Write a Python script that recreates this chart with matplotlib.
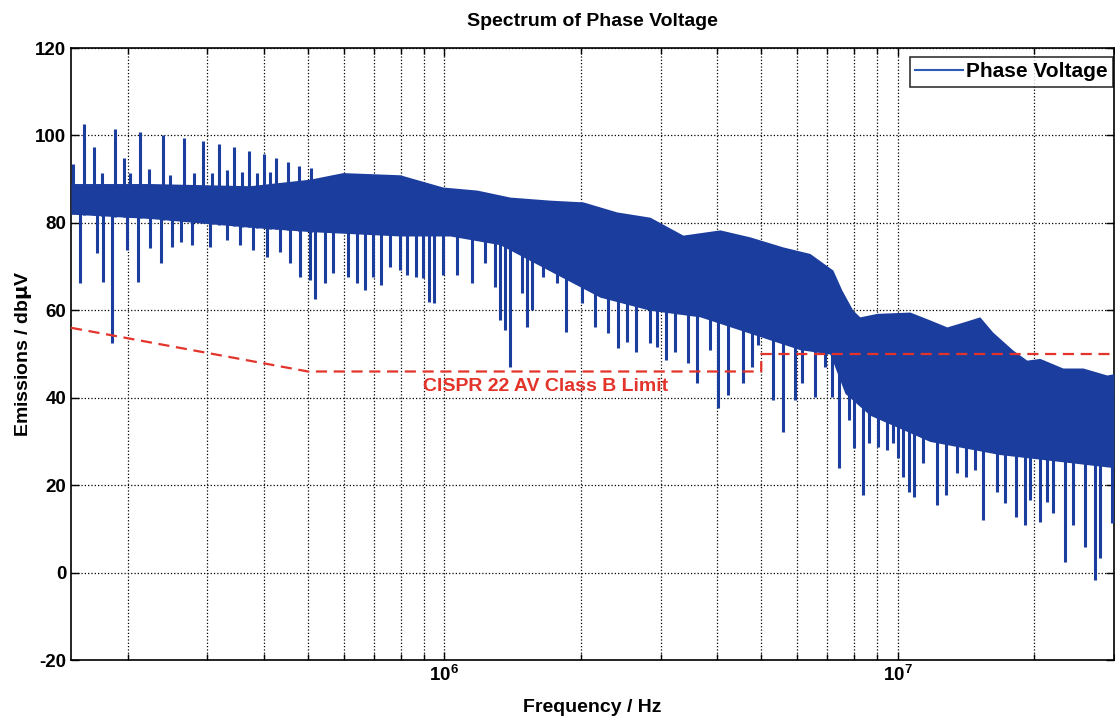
import numpy as np
import matplotlib.pyplot as plt
from matplotlib.lines import Line2D

# dense body of the spectrum (kHz, dBuV)
band_f = [150, 224, 372, 505, 597, 798, 992, 1180, 1395, 1709, 2022, 2401, 2841,
          3360, 4054, 4721, 5583, 6402, 7196, 7533, 7966, 8255, 8999, 10641,
          11778, 12843, 13929, 15180, 16215, 17955, 19275, 20595, 23145, 25635,
          28950, 30000]
band_hi = [89, 89, 88.5, 90, 91.5, 91, 88.2, 87.5, 85.9, 85.2, 84.8, 82.5, 81.3,
           77.2, 78.4, 76.8, 74.5, 73, 69.2, 64.6, 60, 58.5, 59.3, 59.6,
           57.8, 56.2, 57.3, 58.5, 55, 50.9, 48.6, 49, 46.8, 46.8,
           45.2, 45.5]
lo_f = [150, 224, 372, 505, 798, 1029, 1326, 1709, 2204, 2841, 3663, 4966, 6084,
        7088, 7652, 8684, 10116, 11778, 16800, 30000]
band_lo = [82, 81, 79, 78, 77, 77, 75, 69, 63, 60, 58.5, 54, 51,
           50, 41, 36, 33, 30, 27, 24]

# upward harmonic peaks (kHz, dBuV)
up_f = [151.5, 160, 169, 176, 188, 196, 202, 213, 223, 239, 248, 266, 280, 293,
        307, 318, 331, 343, 358, 371, 386, 400, 412, 425, 452, 478, 508]
up_db = [93.5, 102.6, 97.3, 91.5, 101.5, 94.8, 91.5, 100.8, 92.3, 100, 91, 99.4,
         91.5, 98.7, 91.4, 98, 92, 97.3, 91.6, 96.5, 91.4, 95.8, 91.6, 94.8, 94,
         93, 92.5]

# downward notches (kHz, dBuV)
dn_f = [157, 171, 176.5, 185, 199, 211, 224, 237, 251, 262, 277, 304, 331, 354,
        378, 406, 434, 456, 480, 505, 518, 545, 568, 613, 641, 668, 695, 724,
        758, 798, 826, 865, 896, 924, 948, 992, 1066, 1150, 1229, 1293, 1326,
        1360, 1395, 1482, 1521, 1560, 1650, 1771, 1854, 2011, 2148, 2295, 2414,
        2527, 2646, 2841, 2944, 3081, 3226, 3445, 3607, 3852, 4012, 4221, 4557,
        4769, 4917, 5309, 5583, 5934, 6150, 6568, 6911, 7161, 7420, 7806, 8007,
        8381, 8640, 9045, 9467, 9761, 10011, 10267, 10586, 10858, 11366, 12207,
        12778, 13512, 14142, 14803, 15420, 16560, 17235, 18225, 19080, 19575,
        20595, 21345, 22005, 23385, 24360, 25890, 27240, 27930, 29700]
dn_db = [66.2, 73.1, 66.5, 52.5, 73.8, 66.5, 74.2, 70.8, 74.5, 75.6, 74.9, 74.5,
         76, 74.9, 73.8, 72.2, 73.3, 70.8, 67.6, 66.9, 62.5, 66.2, 68.5, 67.6,
         66.2, 64.6, 67.6, 65.8, 69.9, 69.2, 68, 67.6, 67.3, 61.9, 61.6, 68, 68,
         66.2, 70.8, 65.3, 57.8, 55.5, 47, 64, 56.2, 60, 67.6, 66.2, 55, 61.6,
         56.2, 54.8, 51.4, 52.7, 50.5, 52.5, 51.6, 48.6, 50.5, 47.9, 43.4, 50.9,
         37.6, 40.6, 43.4, 47, 52, 39.5, 32.2, 39.5, 43.4, 40.2, 47, 40.2, 23.9,
         34.9, 28.5, 17.7, 29.6, 28.7, 28, 29.6, 26.2, 21.9, 18.4, 17.3, 25, 15.4,
         17.7, 22.8, 21.9, 23.5, 12, 18.4, 15.9, 12.8, 10.9, 16.6, 11.5, 16.1,
         13.6, 2.4, 10.9, 5.8, -1.7, 3.3, 11.3]

# CISPR 22 class B average limit
lim_f = [150e3, 500e3, 5e6, 5e6, 30e6]
lim_db = [56, 46, 46, 50, 50]

blue = '#1b3d9e'
red = '#e3342b'

plt.rcParams['font.family'] = ['Liberation Sans', 'DejaVu Sans']
plt.rcParams['font.weight'] = 'bold'
plt.rcParams['mathtext.default'] = 'bf'
plt.rcParams['axes.unicode_minus'] = False

fig = plt.figure(figsize=(11.15, 7.21), dpi=100)
ax = fig.add_axes([0.0637, 0.0846, 0.9353, 0.8488])

bf = np.array(band_f) * 1e3
lf = np.array(lo_f) * 1e3
uf = np.array(up_f) * 1e3
df = np.array(dn_f) * 1e3

# body
grid_x = np.sort(np.concatenate([bf, lf]))
hi_on = np.interp(np.log10(grid_x), np.log10(bf), band_hi)
lo_on = np.interp(np.log10(grid_x), np.log10(lf), band_lo)
ax.fill_between(grid_x, lo_on, hi_on, color=blue, lw=0, zorder=3)

# spikes
up_base = np.interp(np.log10(uf), np.log10(lf), band_lo)
ax.vlines(uf, up_base, up_db, color=blue, lw=2.2, zorder=3)
dn_top = np.interp(np.log10(df), np.log10(bf), band_hi)
ax.vlines(df, dn_db, dn_top - 2, color=blue, lw=2.2, zorder=3)

ax.plot(lim_f, lim_db, color=red, lw=1.6, ls=(0, (5, 3)), zorder=4)
ax.text(896e3, 42.6, 'CISPR 22 AV Class B Limit', color=red, fontsize=14,
        fontweight='bold', ha='left', va='center', zorder=5)

ax.set_xscale('log')
ax.set_xlim(150e3, 30e6)
ax.set_ylim(-20, 120)
ax.set_yticks(range(-20, 121, 20))
ax.grid(True, which='major', ls=':', color='black', lw=0.9)
ax.grid(True, which='minor', axis='x', ls=':', color='black', lw=0.9)
ax.tick_params(which='both', direction='in', top=True, right=True,
               labelsize=13.5, width=1)
ax.tick_params(which='major', length=6)
ax.tick_params(which='minor', length=4)
for s in ax.spines.values():
    s.set_linewidth(1.2)

ax.set_title('Spectrum of Phase Voltage', fontsize=14, fontweight='bold', pad=16)
ax.set_xlabel('Frequency / Hz', fontsize=14, fontweight='bold', labelpad=10)
ax.set_ylabel(r'Emissions / db$\mu$V', fontsize=14, fontweight='bold', labelpad=1)

handle = Line2D([], [], color='#2d5cb8', lw=1.5)
leg = ax.legend([handle], ['Phase Voltage'], loc='upper right', fontsize=15,
                bbox_to_anchor=(0.999, 0.985), frameon=True, fancybox=False,
                edgecolor='black', handlelength=2.3, borderpad=0.25,
                borderaxespad=0, handletextpad=0.15)
leg.get_frame().set_linewidth(1.2)
leg.set_zorder(6)

fig.savefig('out.png', dpi=100)
